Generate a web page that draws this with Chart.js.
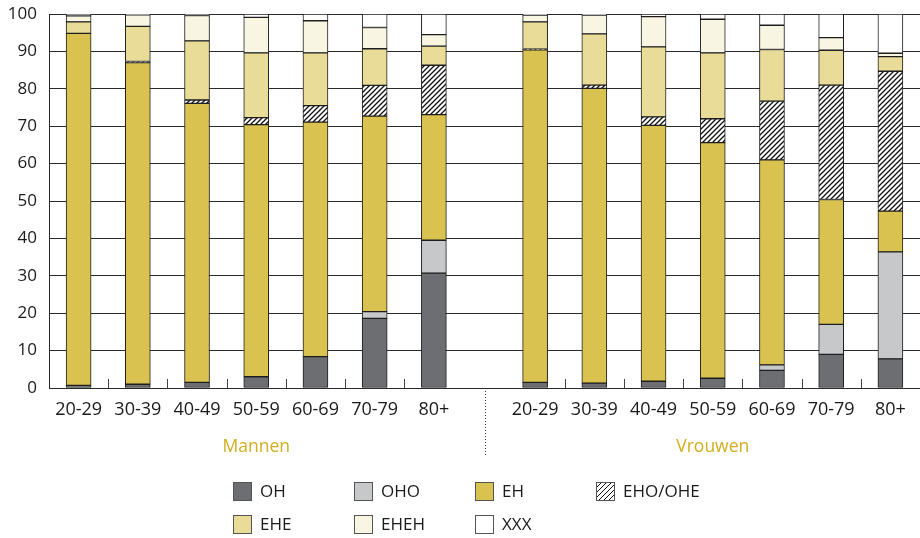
<!DOCTYPE html>
<html>
<head>
<meta charset="utf-8">
<script src="https://cdn.jsdelivr.net/npm/chart.js@4/dist/chart.umd.min.js"></script>
<style>
  html, body { margin: 0; padding: 0; background: #fff; }
  #wrap { position: relative; width: 920px; height: 538px; }
  #c { position: absolute; left: 0; top: 0; }
  #legend { position: absolute; left: 0; top: 0; width: 920px; height: 538px; pointer-events: none;
            font-family: 'Open Sans', sans-serif; font-size: 17px; color: #1a1a1a; }
  .li { position: absolute; height: 19px; white-space: nowrap; }
  .sw { position: absolute; left: 0; top: 0; width: 19px; height: 19px; box-sizing: border-box; border: 1px solid #555; }
  .lt { position: absolute; left: 27px; top: -3px; line-height: 24px; }
</style>
</head>
<body>
<div id="wrap">
  <canvas id="c" width="920" height="538"></canvas>
  <div id="legend"></div>
</div>
<script>
// ---- Data ----
const ageGroups = ['20-29', '30-39', '40-49', '50-59', '60-69', '70-79', '80+'];
const groups = ['Mannen', 'Vrouwen'];
const seriesNames = ['OH', 'OHO', 'EH', 'EHO/OHE', 'EHE', 'EHEH', 'XXX'];
// values: 7 Mannen age groups, then 7 Vrouwen age groups (percent)
const OH     = [0.7, 1.0, 1.5, 3.0, 8.4, 18.6, 30.7,   1.5, 1.3, 1.8, 2.6, 4.7, 9.0, 7.8];
const OHO    = [0, 0, 0, 0, 0, 1.8, 8.8,               0, 0, 0, 0, 1.5, 8.0, 28.6];
const EH     = [94.1, 86.0, 74.6, 67.4, 62.7, 52.3, 33.6,  88.9, 78.8, 68.4, 63.0, 54.8, 33.4, 10.9];
const EHO    = [0, 0.3, 0.9, 1.9, 4.4, 8.2, 13.2,      0.2, 0.9, 2.3, 6.4, 15.7, 30.6, 37.4];
const EHE    = [3.1, 9.4, 15.8, 17.3, 14.1, 9.8, 5.1,  7.3, 13.7, 18.7, 17.6, 13.8, 9.3, 3.9];
const EHEH   = [1.6, 3.1, 6.8, 9.5, 8.6, 5.7, 3.1,     1.8, 5.0, 8.1, 9.0, 6.5, 3.4, 0.9];
const XXX    = [0.5, 0.2, 0.4, 0.9, 1.8, 3.6, 5.5,     0.3, 0.3, 0.7, 1.4, 3.0, 6.3, 10.5];
const seriesValues = [OH, OHO, EH, EHO, EHE, EHEH, XXX];

// ---- Styles ----
const GAP = 0.71; // extra space between the two groups, in slot units
const fills = ['#6d6e71', '#c7c8ca', '#d9c24f', null, '#e8dc98', '#f9f5e3', '#ffffff'];
const GOLD = '#d3ad1f';
const FONT = "'Open Sans', sans-serif";

function hatchPattern() {
  const s = 5;
  const t = document.createElement('canvas');
  t.width = s; t.height = s;
  const g = t.getContext('2d');
  g.fillStyle = '#fff'; g.fillRect(0, 0, s, s);
  g.strokeStyle = '#111'; g.lineWidth = 1.3;
  g.beginPath();
  g.moveTo(-1, s + 1); g.lineTo(s + 1, -1);
  g.moveTo(-1, 1); g.lineTo(1, -1);
  g.moveTo(s - 1, s + 1); g.lineTo(s + 1, s - 1);
  g.stroke();
  return document.getElementById('c').getContext('2d').createPattern(t, 'repeat');
}
const hatch = hatchPattern();

const n = ageGroups.length;
const positions = [];
const tickLabels = [];
groups.forEach((g, gi) => ageGroups.forEach((a, i) => {
  positions.push(gi * (n + GAP) + i);
  tickLabels.push(a);
}));

const datasets = seriesNames.map((name, si) => ({
  label: name,
  data: seriesValues[si].map((v, i) => ({ x: positions[i], y: v })),
  backgroundColor: fills[si] || hatch,
  borderColor: '#1e1e1e',
  borderWidth: 1,
  borderSkipped: false,
  barThickness: 25
}));

const decor = {
  id: 'decor',
  afterDraw(chart) {
    const { ctx, chartArea } = chart;
    const xs = chart.scales.x;
    const bottom = chartArea.bottom;
    ctx.save();
    // small ticks between categories
    ctx.strokeStyle = '#444';
    ctx.lineWidth = 1;
    groups.forEach((g, gi) => {
      for (let i = 0; i < n - 1; i++) {
        const x = Math.round(xs.getPixelForValue(gi * (n + GAP) + i + 0.5)) + 0.5;
        ctx.beginPath(); ctx.moveTo(x, bottom); ctx.lineTo(x, bottom - 9); ctx.stroke();
      }
    });
    // dotted divider between groups
    const dx = Math.round(xs.getPixelForValue(n - 0.5 + GAP / 2)) + 0.5;
    ctx.strokeStyle = '#333';
    ctx.setLineDash([1, 2]);
    ctx.beginPath(); ctx.moveTo(dx, bottom); ctx.lineTo(dx, bottom + 68); ctx.stroke();
    ctx.setLineDash([]);
    // group labels
    ctx.fillStyle = GOLD;
    ctx.font = '17.5px ' + FONT;
    ctx.textAlign = 'center';
    ctx.textBaseline = 'middle';
    groups.forEach((g, gi) => {
      const x = xs.getPixelForValue(gi * (n + GAP) + (n - 1) / 2);
      ctx.fillText(g, x, bottom + 59);
    });
    ctx.restore();
  }
};

Chart.defaults.font.family = FONT;
Chart.defaults.color = '#1a1a1a';

new Chart(document.getElementById('c'), {
  type: 'bar',
  data: { datasets },
  options: {
    responsive: false,
    animation: false,
    layout: { padding: { top: 14, right: 0, bottom: 110, left: 0 } },
    plugins: { legend: { display: false }, tooltip: { enabled: false } },
    scales: {
      x: {
        type: 'linear',
        stacked: true,
        offset: false,
        min: -0.5,
        max: (groups.length - 1) * (n + GAP) + n - 0.5,
        grid: { display: false, drawTicks: false },
        border: { display: false },
        afterBuildTicks: (s) => { s.ticks = positions.map(v => ({ value: v })); },
        afterFit: (s) => { s.height = 40; s.paddingLeft = 0; s.paddingRight = 0; },
        ticks: {
          autoSkip: false, maxRotation: 0, padding: 11,
          font: { size: 18 }, color: '#1a1a1a',
          callback: (v, i) => tickLabels[i]
        }
      },
      y: {
        stacked: true,
        min: 0, max: 100,
        afterFit: (s) => { s.width = 49; s.paddingTop = 0; s.paddingBottom = 0; },
        grid: { color: '#2a2a2a', lineWidth: 1, drawTicks: false },
        border: { display: true, color: '#2a2a2a', width: 1 },
        ticks: { stepSize: 10, padding: 12, font: { size: 17 }, color: '#1a1a1a' }
      }
    }
  },
  plugins: [decor]
});

// ---- HTML legend ----
const legendOrder = [[0, 1, 2, 3], [4, 5, 6]];
const legendEl = document.getElementById('legend');
legendOrder.forEach((row, ri) => row.forEach((si, ci) => {
  const item = document.createElement('div');
  item.className = 'li';
  item.style.left = (233 + ci * 121) + 'px';
  item.style.top = (482 + ri * 33) + 'px';
  const sw = document.createElement('div');
  sw.className = 'sw';
  if (fills[si]) sw.style.background = fills[si];
  else sw.style.background = 'repeating-linear-gradient(135deg, #fff 0 2.4px, #111 2.4px 3.5px)';
  const lt = document.createElement('span');
  lt.className = 'lt';
  lt.textContent = seriesNames[si];
  item.appendChild(sw); item.appendChild(lt);
  legendEl.appendChild(item);
}));
</script>
</body>
</html>
